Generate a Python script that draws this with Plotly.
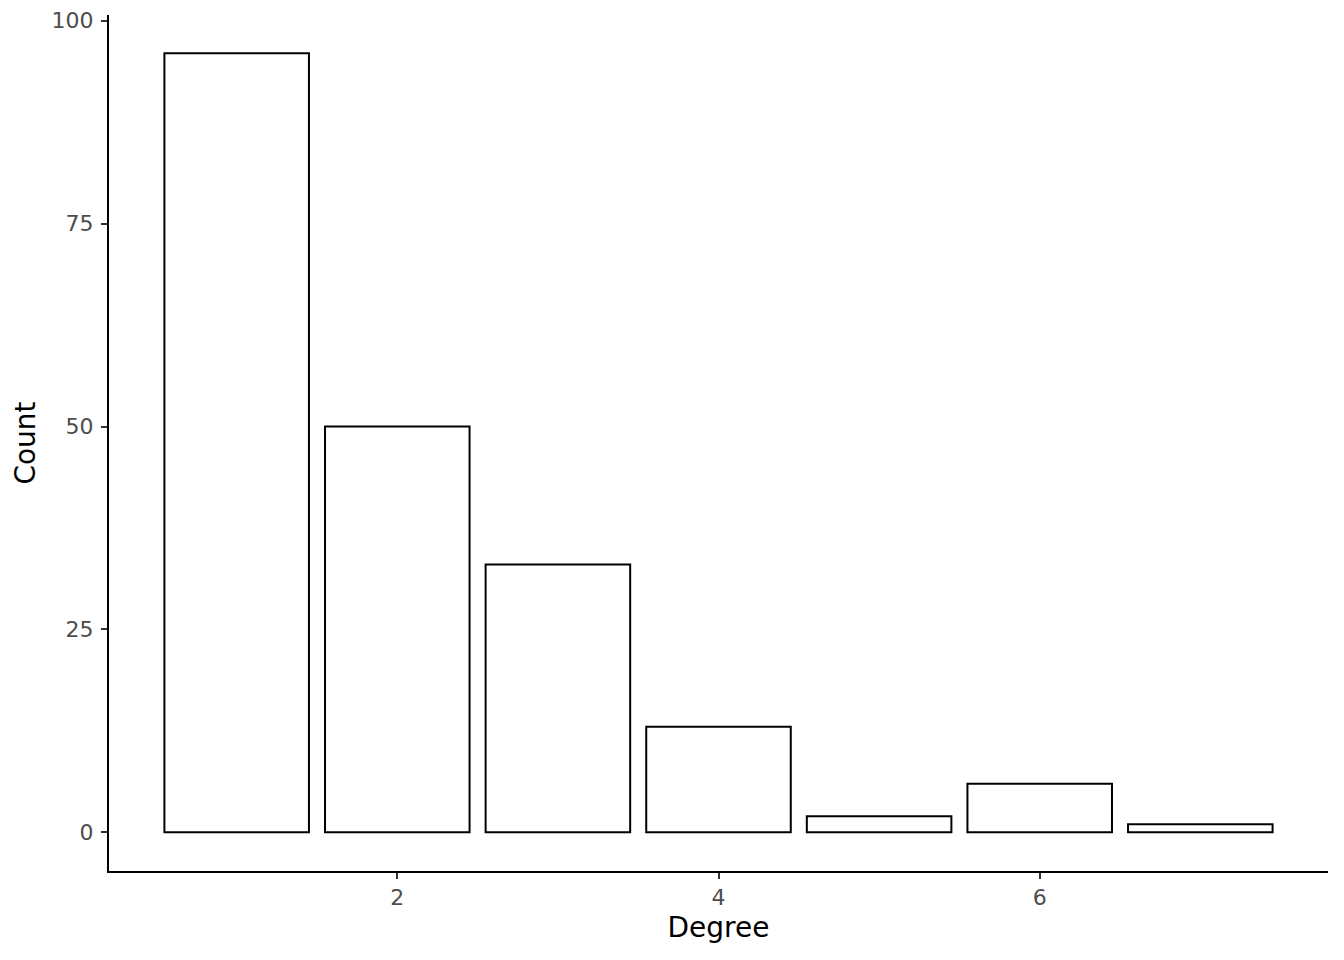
import plotly.graph_objects as go

degree = [1, 2, 3, 4, 5, 6, 7]
count = [96, 50, 33, 13, 2, 6, 1]
x_ticks = [2, 4, 6]
y_ticks = [0, 25, 50, 75, 100]

fig = go.Figure(go.Bar(
    x=degree, y=count, width=0.9,
    marker=dict(color="white", line=dict(color="black", width=2)),
))

font_family = "DejaVu Sans"
fig.update_layout(
    width=1344, height=960,
    margin=dict(l=109, r=16, t=15, b=89, autoexpand=False),
    paper_bgcolor="white", plot_bgcolor="white",
    showlegend=False,
    font=dict(family=font_family),
)
fig.update_xaxes(
    range=[0.205, 7.795], tickvals=x_ticks, ticktext=[str(v) for v in x_ticks],
    showgrid=False, zeroline=False,
    showline=True, linecolor="black", linewidth=2,
    ticks="outside", ticklen=6, tickwidth=2, tickcolor="#333333",
    tickfont=dict(size=22, color="#4D4D4D", family=font_family),
    title=dict(text="Degree", font=dict(size=28, color="black", family=font_family), standoff=8),
)
fig.update_yaxes(
    range=[-4.76, 100.7], tickvals=y_ticks, ticktext=[str(v) for v in y_ticks],
    showgrid=False, zeroline=False,
    showline=True, linecolor="black", linewidth=2,
    ticks="outside", ticklen=6, tickwidth=2, tickcolor="#333333",
    tickfont=dict(size=22, color="#4D4D4D", family=font_family),
    ticklabelstandoff=3,
    title=dict(text="Count", font=dict(size=28, color="black", family=font_family), standoff=8),
)

fig.write_html("out.html", config={"displayModeBar": False},
               post_script="document.body.style.margin='0';")
